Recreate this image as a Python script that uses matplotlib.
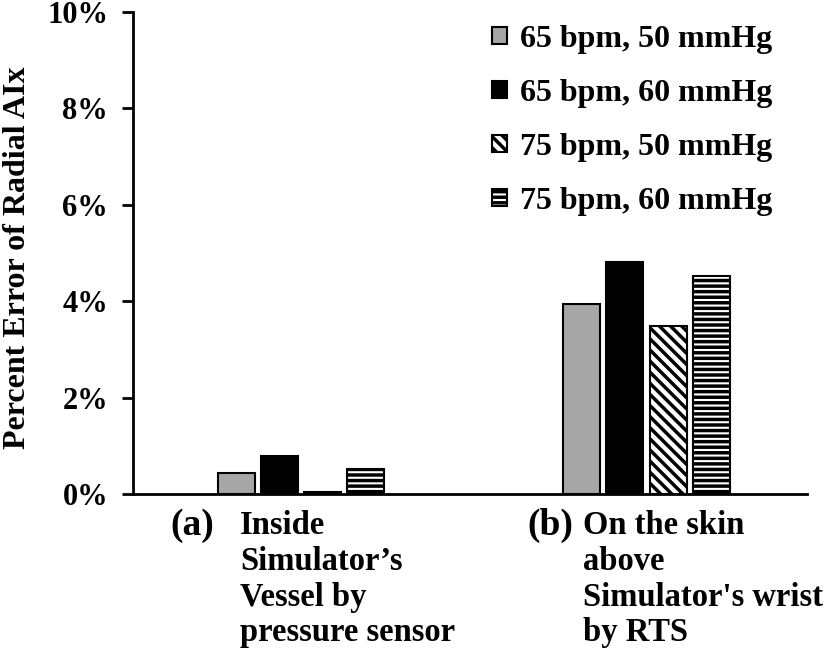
import matplotlib
matplotlib.use("Agg")
import matplotlib.pyplot as plt
import numpy as np

categories = ["(a)", "(b)"]
cat_desc = ["Inside\nSimulator\u2019s\nVessel by\npressure sensor",
            "On the skin\nabove\nSimulator's wrist\nby RTS"]
series = ["65 bpm, 50 mmHg", "65 bpm, 60 mmHg", "75 bpm, 50 mmHg", "75 bpm, 60 mmHg"]
values = [
    [0.44, 3.94],
    [0.79, 4.81],
    [0.04, 3.49],
    [0.52, 4.52],
]
yticks = [0, 2, 4, 6, 8, 10]
ytick_labels = ["0%", "2%", "4%", "6%", "8%", "10%"]

colors = ["#a6a6a6", "#000000", "#ffffff", "#ffffff"]
hatches = [None, None, "\\\\\\", "---"]

plt.rcParams["font.family"] = ["Liberation Serif", "DejaVu Serif"]
plt.rcParams["font.weight"] = "bold"
plt.rcParams["hatch.linewidth"] = 2.5

fig = plt.figure(figsize=(8.27, 6.58), dpi=100)
ax = fig.add_axes([133/827, 1-494/658, (807-133)/827, (494-12)/658])

x = np.arange(len(categories))
pitch = 0.1253
width = 0.107
for i, (s, v) in enumerate(zip(series, values)):
    ax.bar(x + (i - 1.5) * pitch, v, width, color=colors[i], edgecolor="black",
           linewidth=1.5, hatch=hatches[i], label=s)

ax.set_xlim(-0.486, 1.464)
ax.set_ylim(0, 10)
ax.set_yticks(yticks)
ax.set_yticklabels(ytick_labels, fontsize=22, fontweight="bold")
ax.tick_params(axis="y", direction="out", length=8, width=2, pad=10)
ax.set_xticks([])
for sp in ["top", "right"]:
    ax.spines[sp].set_visible(False)
ax.spines["left"].set_linewidth(2)
ax.spines["bottom"].set_linewidth(2)

ax.set_ylabel("Percent Error of Radial AIx", fontsize=23, fontweight="bold")
ax.yaxis.set_label_coords(-0.150, 0.49)

# category labels
lab_x = [170, 527]
desc_x = [240, 583]
for i in range(len(categories)):
    fig.text(lab_x[i]/827, 1-508/658, categories[i], fontsize=27, fontweight="bold",
             ha="left", va="top")
    fig.text(desc_x[i]/827, 1-510/658, cat_desc[i], fontsize=23.5, fontweight="bold",
             ha="left", va="top", linespacing=1.2)

leg = fig.legend(loc="upper right", bbox_to_anchor=(772/827, 1-25/658), frameon=False,
                 fontsize=23, handlelength=0.45, handleheight=0.45, handletextpad=0.4,
                 labelspacing=0.78, borderaxespad=0.0, borderpad=0.0)
for t in leg.get_texts():
    t.set_fontweight("bold")

fig.savefig("out.png", dpi=100)
